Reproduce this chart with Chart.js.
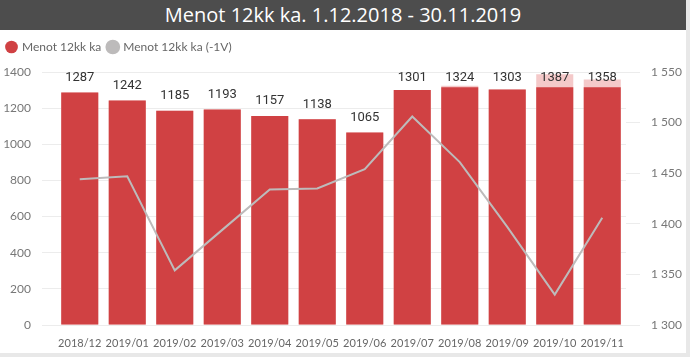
<!DOCTYPE html>
<html><head><meta charset="utf-8">
<script src="https://cdn.jsdelivr.net/npm/chart.js@4"></script>
<style>
html,body{margin:0;padding:0;background:#e8e8e8;width:690px;height:357px;overflow:hidden;}
#wrap{position:absolute;left:0;top:0;width:686px;height:353px;background:#fff;}
#title{height:30px;background:#4d4d4d;color:#fff;font:20px 'Open Sans',sans-serif;text-align:center;line-height:30px;}
#box{position:absolute;left:0;top:30px;width:686px;height:323px;}
</style></head><body>
<div id="wrap"><div id="title">Menot 12kk ka. 1.12.2018 - 30.11.2019</div>
<div id="box"><canvas id="c"></canvas></div></div>
<script>
const categories = ['2018/12','2019/01','2019/02','2019/03','2019/04','2019/05','2019/06','2019/07','2019/08','2019/09','2019/10','2019/11'];
const spend12m = [1287,1242,1185,1193,1157,1138,1065,1301,1324,1303,1387,1358];
const spend12mSolid = [1287,1242,1185,1193,1157,1138,1065,1301,1315,1303,1315,1315];
const spend12mPrevYear = [1444,1447,1354,1394,1434,1435,1454,1506,1461,1397,1330,1406];
const leftTicks = [0,200,400,600,800,1000,1200,1400];
const rightTicks = [1300,1350,1400,1450,1500,1550];

const RED = '#D04143', PINK = '#F4C9C9', GRAY = '#BDBBBB';
const fmtSpace = v => String(v).replace(/\B(?=(\d{3})+(?!\d))/g, ' ');
const TICKFONT = { family: 'Lato', size: 12 };

const valueLabels = {
  id: 'valueLabels',
  afterDatasetsDraw(chart) {
    const meta = chart.getDatasetMeta(2);
    const ctx = chart.ctx;
    ctx.save();
    ctx.font = '13px Roboto';
    ctx.fillStyle = '#333';
    ctx.textAlign = 'center';
    ctx.textBaseline = 'middle';
    meta.data.forEach((bar, i) => {
      const y = Math.max(bar.y - 15, chart.chartArea.top + 6);
      ctx.fillText(String(spend12m[i]), bar.x, y);
    });
    ctx.restore();
  }
};
const legendGap = {
  id: 'legendGap',
  beforeInit(chart) {
    if (!chart.legend) return;
    const orig = chart.legend.fit;
    chart.legend.fit = function () { orig.call(this); this.height += 9; };
  }
};

new Chart(document.getElementById('c'), {
  data: {
    labels: categories,
    datasets: [
      { type: 'bar', label: 'Menot 12kk ka', data: spend12mSolid, backgroundColor: RED, yAxisID: 'y', grouped: false, order: 1, barPercentage: 0.78, categoryPercentage: 1 },
      { type: 'line', label: 'Menot 12kk ka (-1V)', data: spend12mPrevYear, borderColor: GRAY, backgroundColor: GRAY, borderWidth: 2, pointRadius: 0, yAxisID: 'y1', order: 0, tension: 0 },
      { type: 'bar', label: 'hidden', data: spend12m, backgroundColor: PINK, yAxisID: 'y', grouped: false, order: 2, barPercentage: 0.78, categoryPercentage: 1 }
    ]
  },
  options: {
    responsive: true, maintainAspectRatio: false, animation: false,
    layout: { padding: { left: 0, right: 0, top: 4, bottom: 1 } },
    plugins: {
      tooltip: { enabled: false },
      legend: {
        position: 'top', align: 'start',
        labels: {
          usePointStyle: true, pointStyle: 'circle', boxWidth: 9, boxHeight: 9, padding: 7,
          color: '#666', font: { family: 'Lato', size: 12 },
          filter: item => item.datasetIndex !== 2,
          sort: (a, b) => a.datasetIndex - b.datasetIndex
        }
      }
    },
    scales: {
      x: {
        afterFit: s => { s.height = 27; },
        grid: { display: false },
        border: { display: false },
        ticks: { color: '#666', font: { family: 'Lato', size: 11 }, maxRotation: 0, autoSkip: false, padding: 4 }
      },
      y: {
        position: 'left', min: 0, max: 1400,
        afterFit: s => { s.width = 56; },
        afterBuildTicks: s => { s.ticks = leftTicks.map(v => ({ value: v })); },
        grid: { color: '#ECECEC', tickLength: 14, drawTicks: true },
        border: { display: false },
        ticks: { color: '#777', font: TICKFONT, padding: 11, callback: v => String(v) }
      },
      y1: {
        position: 'right', min: 1300, max: 1550,
        afterFit: s => { s.width = 60; },
        afterBuildTicks: s => { s.ticks = rightTicks.map(v => ({ value: v })); },
        grid: { drawOnChartArea: false, color: '#ECECEC', tickLength: 14 },
        border: { display: false },
        ticks: { color: '#777', font: TICKFONT, padding: 11, callback: v => fmtSpace(v) }
      }
    }
  },
  plugins: [valueLabels, legendGap]
});
</script>
</body></html>
